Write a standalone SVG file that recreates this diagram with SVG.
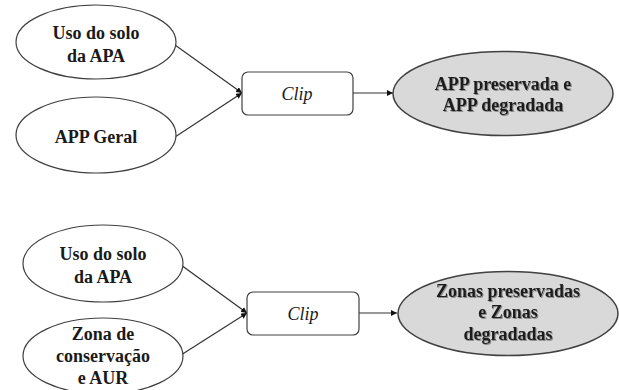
<svg xmlns="http://www.w3.org/2000/svg" width="619" height="390" viewBox="0 0 619 390">
<style>
.nd{fill:#fff;stroke:#404040;stroke-width:1.2}
.gr{fill:#d9d9d9;stroke:#404040;stroke-width:1.5}
.bx{fill:#fff;stroke:#404040;stroke-width:1.2}
.lbl{font-family:'Times New Roman','Liberation Serif','DejaVu Serif',serif;font-weight:bold;font-size:18px;fill:#1a1a1a;text-anchor:middle}
.shd{filter:url(#sh)}
.clp{font-family:'Times New Roman','Liberation Serif','DejaVu Serif',serif;font-style:italic;font-size:18px;fill:#1a1a1a;text-anchor:middle}
.edge{stroke:#333;stroke-width:1.2;fill:none;marker-end:url(#ar)}
</style>
<defs>
<marker id="ar" viewBox="0 0 10 10" refX="10" refY="5" markerWidth="6" markerHeight="6" markerUnits="userSpaceOnUse" orient="auto">
<path d="M0,0 L10,5 L0,10 z" fill="#111"/>
</marker>
<filter id="sh" x="-10%" y="-20%" width="120%" height="140%">
<feDropShadow dx="1" dy="1" stdDeviation="0.6" flood-color="#777" flood-opacity="0.8"/>
</filter>
</defs>
<rect width="619" height="390" fill="#fff"/>
<g id="connectors">
<line class="edge" x1="175" y1="45" x2="242" y2="93"/>
<line class="edge" x1="175" y1="137" x2="242" y2="93"/>
<line class="edge" x1="353" y1="93" x2="393" y2="93"/>
<line class="edge" x1="181" y1="265" x2="247" y2="313"/>
<line class="edge" x1="181" y1="355" x2="247" y2="313"/>
<line class="edge" x1="359" y1="313" x2="397" y2="313"/>
</g>
<g id="uso1">
<ellipse class="nd" cx="96" cy="42" rx="80" ry="37"/>
<text class="lbl" x="96" y="39">Uso do solo</text>
<text class="lbl" x="96" y="62">da APA</text>
</g>
<g id="appgeral">
<ellipse class="nd" cx="96" cy="135" rx="80" ry="38"/>
<text class="lbl" x="96" y="143">APP Geral</text>
</g>
<g id="clip1">
<rect class="bx" x="242" y="72" width="111" height="43" rx="6"/>
<text class="clp" x="297" y="100">Clip</text>
</g>
<g id="app">
<ellipse class="gr" cx="503" cy="93.5" rx="110" ry="42"/>
<text class="lbl shd" x="503" y="90">APP preservada e</text>
<text class="lbl shd" x="503" y="111">APP degradada</text>
</g>
<g id="uso2">
<ellipse class="nd" cx="103" cy="263.5" rx="80" ry="38.5"/>
<text class="lbl" x="103" y="260">Uso do solo</text>
<text class="lbl" x="103" y="283">da APA</text>
</g>
<g id="zona">
<ellipse class="nd" cx="103" cy="356" rx="80" ry="38"/>
<text class="lbl" x="103" y="340">Zona de</text>
<text class="lbl" x="103" y="362">conservação</text>
<text class="lbl" x="103" y="384">e AUR</text>
</g>
<g id="clip2">
<rect class="bx" x="247" y="292" width="112" height="43" rx="6"/>
<text class="clp" x="303" y="320">Clip</text>
</g>
<g id="zonas">
<ellipse class="gr" cx="508" cy="313.5" rx="110" ry="42"/>
<text class="lbl shd" x="508" y="297">Zonas preservadas</text>
<text class="lbl shd" x="508" y="318">e Zonas</text>
<text class="lbl shd" x="508" y="340">degradadas</text>
</g>
</svg>
